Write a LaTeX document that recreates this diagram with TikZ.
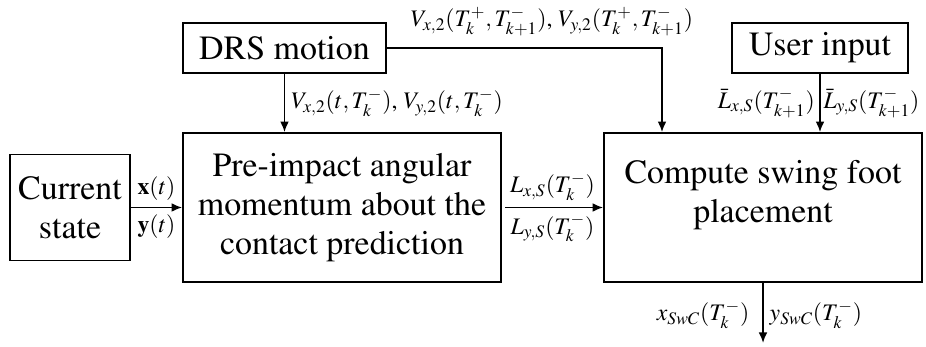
\documentclass[tikz,border=0pt]{standalone}
\usepackage[T1]{fontenc}
\usepackage{mathptmx}
\usetikzlibrary{arrows.meta}

\begin{document}
\begin{tikzpicture}[x=0.02cm, y=-0.02cm, line width=1pt,
      txt/.style={align=center, font=\rmfamily\fontsize{19.3}{22.3}\selectfont},
      block/.style={draw, txt, inner sep=0pt},
      sig/.style={font=\fontsize{13.5}{15}\selectfont},
      arr/.style={-{Latex[length=6pt, width=5pt]}}]
   \useasboundingbox (0,0) rectangle (926,347);
   \node[block, minimum width=2.4cm, minimum height=2.12cm] (cur) at (70,207.5) {Current\\state};
   \node[block, minimum width=6.36cm, minimum height=2.98cm] (pre) at (342,207.5)
      {Pre-impact angular\\momentum about the\\contact prediction};
   \node[block, minimum width=6.36cm, minimum height=2.98cm,
      label={[txt, yshift=0.24cm]center:Compute swing foot\\placement}] (comp) at (763,207.5) {};
   \node[block, minimum width=4.06cm, minimum height=1cm] (drs) at (284.5,48) {DRS motion};
   \node[block, minimum width=3.52cm, minimum height=1cm] (user) at (820,48) {User input};
   \coordinate (out) at (763,343);

   \draw[arr] (cur) -- (pre)
      node[sig, midway, above] {$\mathbf{x}(t)$}
      node[sig, midway, below] {$\mathbf{y}(t)$};
   \draw[arr, shorten <=2pt] (pre) -- (comp)
      node[sig, midway, above] {$L_{x,S}(T_k^-)$}
      node[sig, midway, below] {$L_{y,S}(T_k^-)$};
   \draw[arr] (drs.south) -- (drs.south |- pre.north)
      node[sig, midway, right] {$V_{x,2}(t,T_k^-)$, $V_{y,2}(t,T_k^-)$};
   \draw[arr] (drs.east) -| (662,0 |- comp.north)
      node[sig, pos=0.3, above, yshift=3pt] {$V_{x,2}(T_k^+,T_{k+1}^-)$, $V_{y,2}(T_k^+,T_{k+1}^-)$};
   \draw[arr] (user) -- (user |- comp.north)
      node[sig, midway, left, inner sep=2.5pt] {$\bar{L}_{x,S}(T_{k+1}^-)$}
      node[sig, midway, right, inner sep=1.5pt] {$\bar{L}_{y,S}(T_{k+1}^-)$};
   \draw[arr] (comp) -- (out)
      node[sig, midway, left, xshift=-4pt, yshift=-1pt] {$x_{SwC}(T_k^-)$}
      node[sig, midway, right, yshift=-1pt] {$y_{SwC}(T_k^-)$};
\end{tikzpicture}
\end{document}
